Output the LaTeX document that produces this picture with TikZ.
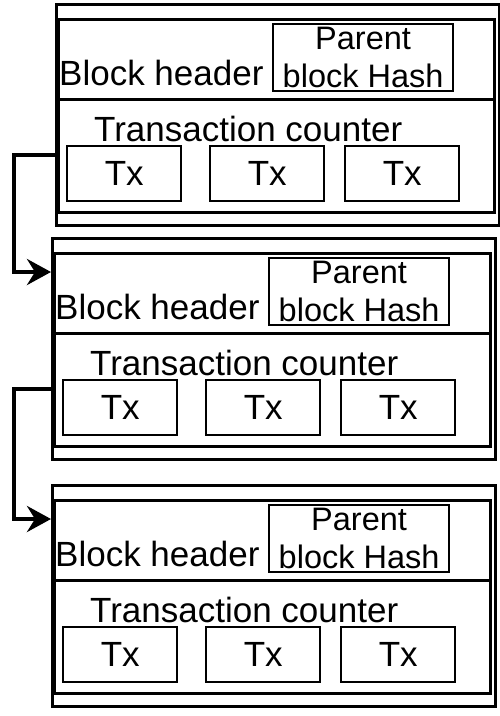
\documentclass[tikz,border=0pt]{standalone}
\usepackage{fontspec}
\setmainfont{Liberation Sans}
\usetikzlibrary{arrows.meta}
\tikzset{
  outerbox/.style={draw, line width=3pt, rectangle, inner sep=0pt, anchor=north west},
  secbox/.style={draw, line width=3pt, rectangle, inner sep=0pt, anchor=north west},
  hashbox/.style={draw, line width=2.2pt, rectangle, inner sep=0pt, align=center,
    font=\fontsize{32.5}{38}\selectfont, minimum width=180pt, minimum height=67pt, anchor=north west},
  txbox/.style={draw, line width=2.4pt, rectangle, inner sep=0pt,
    font=\fontsize{35}{42}\selectfont, minimum width=114pt, minimum height=55pt, anchor=north west},
  lbl/.style={inner sep=0pt, anchor=base west, font=\fontsize{35}{42}\selectfont},
  conn/.style={line width=4pt, -{Stealth[length=24pt,width=26pt,inset=8pt]}},
}
\newcommand\myblk[3]{%
  \begin{scope}[shift={(#2,#3)}]
    \node[outerbox, minimum width=443pt, minimum height=221pt] (#1) at (51,237) {};
    \node[secbox, minimum width=436pt, minimum height=80pt] (#1h) at (53,252) {};
    \node[secbox, minimum width=436pt, minimum height=113pt] (#1t) at (53,332) {};
    \node[hashbox] (#1p) at (268,257) {Parent\\block Hash};
    \node[lbl] (#1bh) at (55,319) {Block header};
    \node[lbl] (#1tc) at (90,375) {Transaction counter};
    \node[txbox] (#1xa) at (62,379) {Tx};
    \node[txbox] (#1xb) at (205,379) {Tx};
    \node[txbox] (#1xc) at (340,379) {Tx};
    \coordinate (#1in) at (51,272);
    \coordinate (#1out) at (51,389);
  \end{scope}}
\begin{document}
\begin{tikzpicture}[x=1pt,y=-1pt]
  \useasboundingbox (0,0) rectangle (500,716);
  \myblk{b1}{4}{-234}
  \myblk{b2}{0}{0}
  \myblk{b3}{0}{247}
  \coordinate (rail) at (14,0);
  \draw[conn] (b1out) -- (b1out -| rail) -- (rail |- b2in) -- (b2in);
  \draw[conn] (b2out) -- (b2out -| rail) -- (rail |- b3in) -- (b3in);
\end{tikzpicture}
\end{document}
